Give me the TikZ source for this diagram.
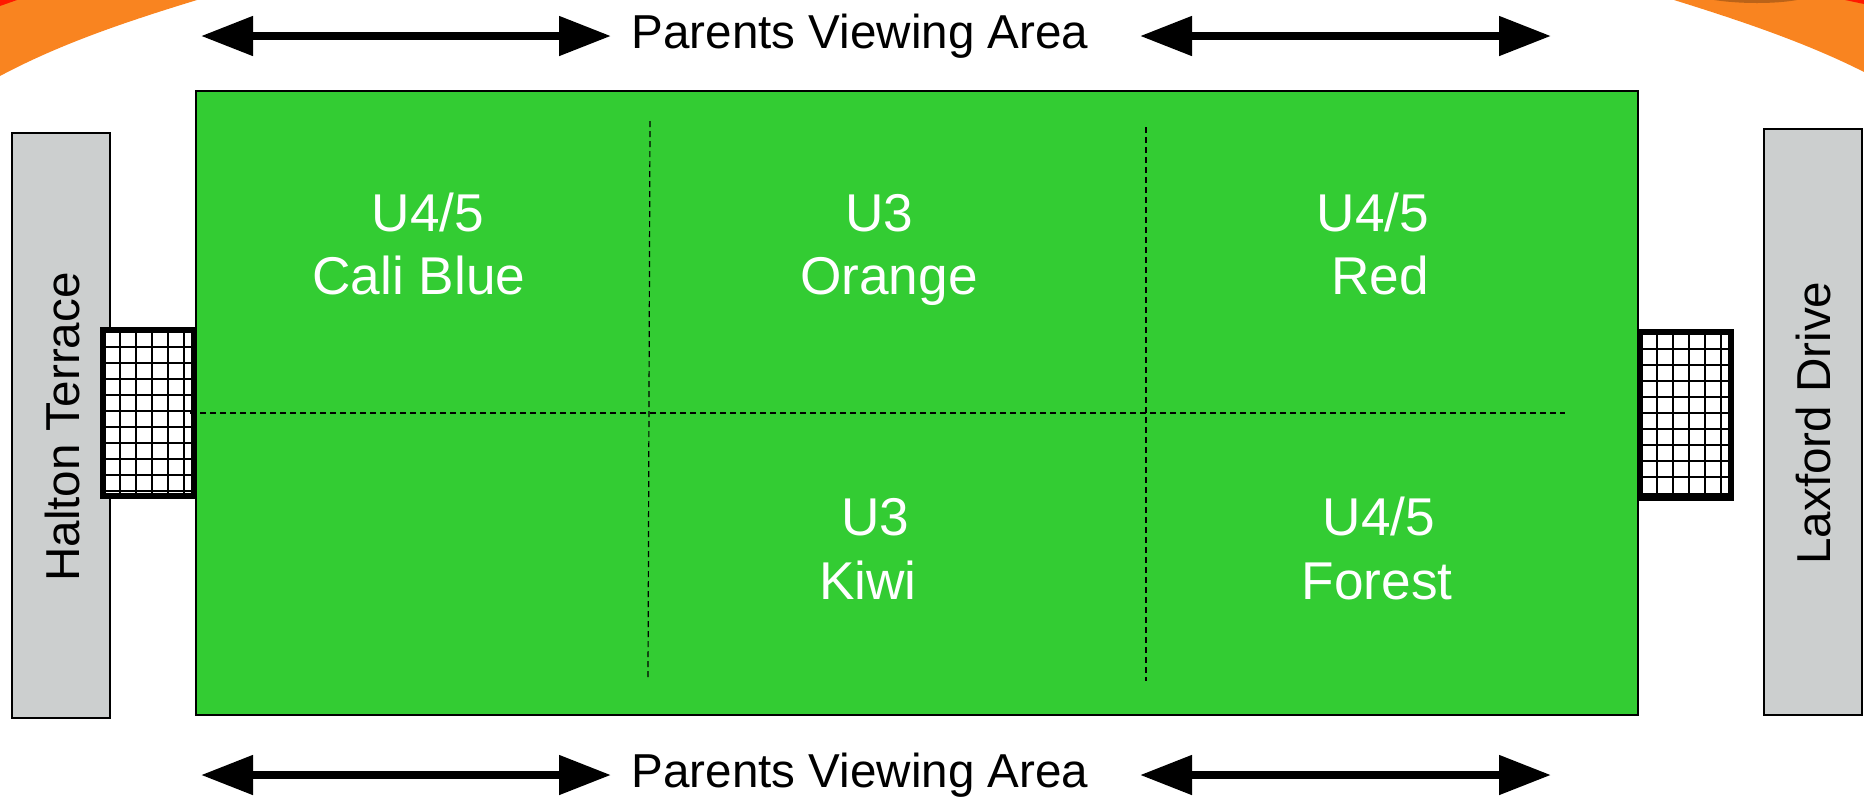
\documentclass[tikz,border=0pt]{standalone}
\usepackage{fontspec}
\setmainfont{Liberation Sans}
\usetikzlibrary{arrows.meta}
\definecolor{pitch}{HTML}{33CC33}
\definecolor{roadgrey}{HTML}{CCCFCF}
\definecolor{swoosh}{HTML}{F98420}
\tikzset{
  pitchbox/.style={draw=black,line width=1pt,fill=pitch,inner sep=0pt,outer sep=0pt,minimum width=721pt,minimum height=312pt,anchor=north west},
  road/.style={draw=black,line width=1pt,fill=roadgrey,inner sep=0pt,outer sep=0pt,minimum width=49pt,anchor=north west},
  roadtext/.style={font=\fontsize{23.8}{28}\selectfont,rotate=90,text=black,inner sep=0pt},
  netbox/.style={draw=black,line width=3pt,fill=white,inner sep=0pt,outer sep=0pt,minimum width=45.5pt,minimum height=83pt,anchor=north west},
  netline/.style={black,line width=1.1pt},
  divider/.style={black,line width=0.6pt,dash pattern=on 3pt off 2pt},
  viewarrow/.style={black,line width=4pt,{Triangle[length=26pt,width=19pt]}-{Triangle[length=26pt,width=19pt]}},
  viewtext/.style={font=\fontsize{23.8}{28}\selectfont,text=black,inner sep=0pt,anchor=base},
  team/.style={font=\fontsize{26.6}{31}\selectfont,text=white,inner sep=0pt,anchor=base}
}
\begin{document}
\begin{tikzpicture}[x=0.5pt,y=-0.5pt]
\useasboundingbox (0,0) rectangle (1864,800);
% corner swooshes
\fill[swoosh] (0,0) -- (197,0) .. controls (125,22) and (60,44) .. (0,76) -- cycle;
\fill[swoosh] (1864,0) -- (1674,0) .. controls (1735,19) and (1805,42) .. (1864,72) -- cycle;
\fill[red!80!orange] (0,0) -- (17,0) -- (0,6) -- cycle;
\fill[red!80!orange] (1864,0) -- (1845,0) -- (1864,4) -- cycle;
\fill[swoosh!75!black] (1714,0) .. controls (1740,4) and (1775,4) .. (1797,0) -- cycle;
% roads
\node[road,minimum height=292.5pt] (halton) at (12,133) {};
\node[road,minimum height=293pt] (laxford) at (1764,129) {};
\node[roadtext] (haltontext) at (62,427) {Halton Terrace};
\node[roadtext] (laxfordtext) at (1813,423) {Laxford Drive};
% pitch
\node[pitchbox] (pitch) at (196,91) {};
% nets
\node[netbox] (netl) at (103,330) {};
\foreach \x in {120,136,152,168,184} \draw[netline] (\x,330) -- (\x,496);
\foreach \y in {347,363,379,395,411,427,443,459,475,491} \draw[netline] (103,\y) -- (194,\y);
\node[netbox] (netr) at (1640,332) {};
\foreach \x in {1657,1673,1689,1705,1721} \draw[netline] (\x,332) -- (\x,498);
\foreach \y in {349,365,381,397,413,429,445,461,477,494} \draw[netline] (1640,\y) -- (1731,\y);
% dividers
\coordinate (d1a) at (650,121); \coordinate (d1b) at (648,678);
\coordinate (d2a) at (1146,127); \coordinate (d2b) at (1146,681);
\coordinate (d3a) at (190,413); \coordinate (d3b) at (1565,413);
\draw[divider] (d1a) -- (d1b);
\draw[divider] (d2a) -- (d2b);
\draw[divider] (d3a) -- (d3b);
% arrows
\coordinate (a1) at (201,36); \coordinate (a2) at (611,36);
\coordinate (a3) at (1140,36); \coordinate (a4) at (1551,36);
\coordinate (a5) at (201,775); \coordinate (a6) at (611,775);
\coordinate (a7) at (1140,775); \coordinate (a8) at (1551,775);
\draw[viewarrow] (a1) -- (a2);
\draw[viewarrow] (a3) -- (a4);
\draw[viewarrow] (a5) -- (a6);
\draw[viewarrow] (a7) -- (a8);
\node[viewtext] (toplabel) at (860,48) {Parents Viewing Area};
\node[viewtext] (botlabel) at (860,787) {Parents Viewing Area};
% team labels
\node[team] (t1a) at (428,231) {U4/5};
\node[team] (t1b) at (419,294) {Cali Blue};
\node[team] (t2a) at (879,231) {U3};
\node[team] (t2b) at (889,294) {Orange};
\node[team] (t3a) at (1373,231) {U4/5};
\node[team] (t3b) at (1380,294) {Red};
\node[team] (t4a) at (875,535) {U3};
\node[team] (t4b) at (868,599) {Kiwi};
\node[team] (t5a) at (1379,535) {U4/5};
\node[team] (t5b) at (1377,599) {Forest};
\end{tikzpicture}
\end{document}
